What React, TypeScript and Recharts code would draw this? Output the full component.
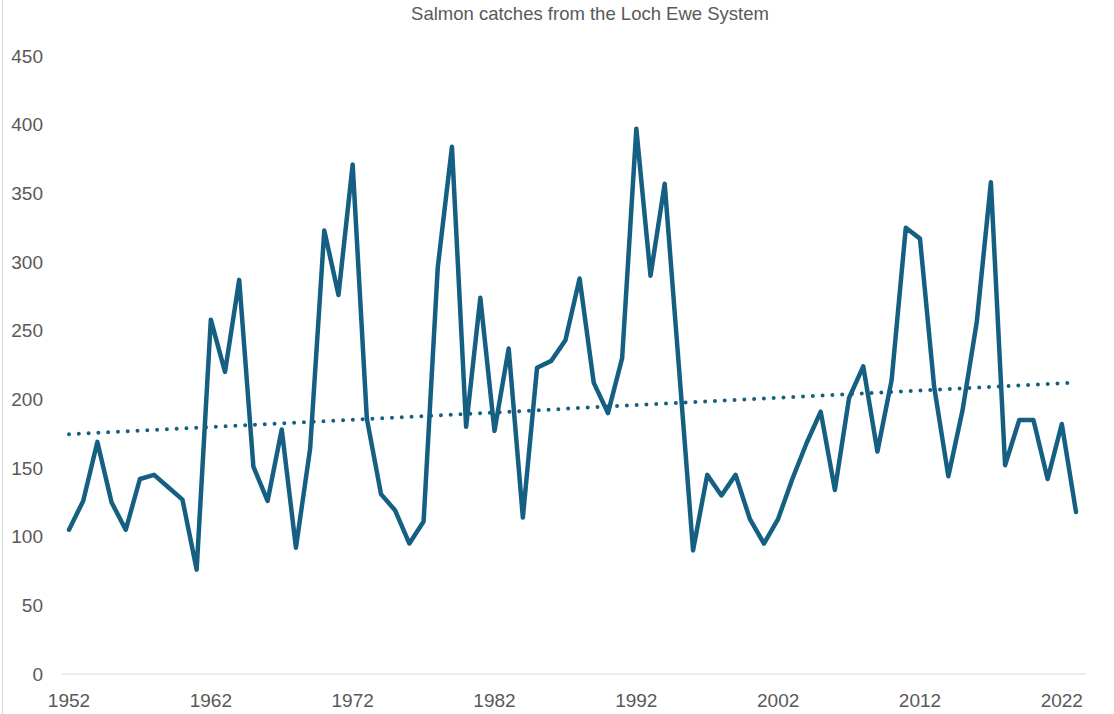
import React from "react";
import { LineChart, Line, XAxis, YAxis } from "recharts";

const years = [
  1952, 1953, 1954, 1955, 1956, 1957, 1958, 1959, 1960, 1961,
  1962, 1963, 1964, 1965, 1966, 1967, 1968, 1969, 1970, 1971,
  1972, 1973, 1974, 1975, 1976, 1977, 1978, 1979, 1980, 1981,
  1982, 1983, 1984, 1985, 1986, 1987, 1988, 1989, 1990, 1991,
  1992, 1993, 1994, 1995, 1996, 1997, 1998, 1999, 2000, 2001,
  2002, 2003, 2004, 2005, 2006, 2007, 2008, 2009, 2010, 2011,
  2012, 2013, 2014, 2015, 2016, 2017, 2018, 2019, 2020, 2021,
  2022, 2023,
];

const catches = [
  105, 126, 169, 125, 105, 142, 145, 136, 127, 76,
  258, 220, 287, 151, 126, 178, 92, 164, 323, 276,
  371, 186, 131, 119, 95, 111, 296, 384, 180, 274,
  177, 237, 114, 223, 228, 243, 288, 212, 190, 230,
  397, 290, 357, 224, 90, 145, 130, 145, 113, 95,
  113, 142, 168, 191, 134, 201, 224, 162, 214, 325,
  317, 209, 144, 192, 256, 358, 152, 185, 185, 142,
  182, 118,
];

// Linear trendline end points
const trendYears = [1952, 2023];
const trendValues = [174.5, 212.3];

const xTicks = [1952, 1962, 1972, 1982, 1992, 2002, 2012, 2022];
const yTicks = [0, 50, 100, 150, 200, 250, 300, 350, 400, 450];

const title = "Salmon catches from the Loch Ewe System";

const data = years.map((year, i) => {
  const ti = trendYears.indexOf(year);
  return {
    year,
    catches: catches[i],
    trend: ti >= 0 ? trendValues[ti] : undefined,
  };
});

const LINE = "#156082";
const TEXT = "#595959";
const FONT = "'Liberation Sans', Arial, sans-serif";

export default function App() {
  return (
    <div
      style={{
        position: "absolute",
        left: 0,
        top: 0,
        width: 1114,
        height: 714,
        background: "#ffffff",
        fontFamily: FONT,
      }}
    >
      <svg
        width={1114}
        height={714}
        style={{ position: "absolute", left: 0, top: 0, pointerEvents: "none" }}
      >
        <line x1={2.5} y1={0} x2={2.5} y2={714} stroke="#d9d9d9" strokeWidth={1} />
        <text
          x={590}
          y={20}
          textAnchor="middle"
          fill={TEXT}
          fontSize={18.5}
          fontFamily={FONT}
        >
          {title}
        </text>
      </svg>
      <LineChart
        width={1114}
        height={714}
        data={data}
        margin={{ top: 56, right: 28, left: 0, bottom: 0 }}
      >
        <XAxis
          dataKey="year"
          type="number"
          domain={[1952, 2023]}
          ticks={xTicks}
          padding={{ left: 7, right: 10 }}
          height={40}
          axisLine={{ stroke: "#d9d9d9", strokeWidth: 1 }}
          tickLine={false}
          tickSize={0}
          tickMargin={20}
          tick={{ fill: TEXT, fontSize: 19, fontFamily: FONT }}
          interval={0}
        />
        <YAxis
          type="number"
          domain={[0, 450]}
          ticks={yTicks}
          width={62}
          axisLine={false}
          tickLine={false}
          tickSize={0}
          tickMargin={19}
          tick={{ fill: TEXT, fontSize: 19, fontFamily: FONT }}
          interval={0}
        />
        <Line
          dataKey="trend"
          stroke={LINE}
          strokeWidth={4}
          strokeDasharray="0 9.8"
          strokeLinecap="round"
          dot={false}
          activeDot={false}
          connectNulls
          isAnimationActive={false}
          type="linear"
        />
        <Line
          dataKey="catches"
          stroke={LINE}
          strokeWidth={4.5}
          strokeLinejoin="round"
          strokeLinecap="round"
          dot={false}
          activeDot={false}
          isAnimationActive={false}
          type="linear"
        />
      </LineChart>
    </div>
  );
}
